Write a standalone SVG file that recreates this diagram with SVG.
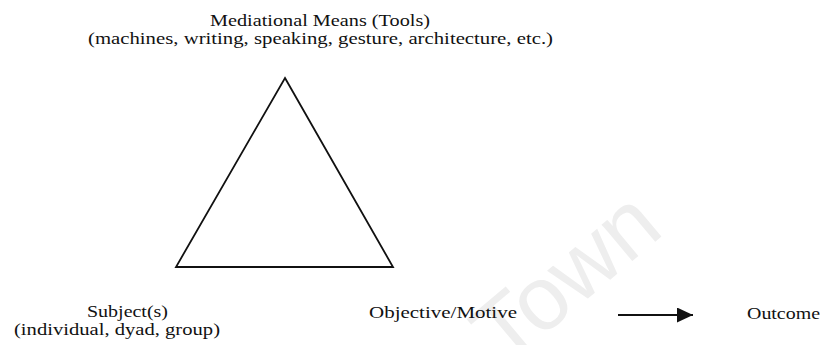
<svg xmlns="http://www.w3.org/2000/svg" width="825" height="345" viewBox="0 0 825 345">
  <style>
    .lbl { font-family: "Liberation Serif", "Times New Roman", serif; font-size: 17.5px; fill: #111; }
    .edge { fill: none; stroke: #111; stroke-width: 1.8; stroke-linejoin: miter; }
    .wm { font-family: "Liberation Sans", Arial, sans-serif; font-size: 90px; fill: #eeeeee; }
  </style>
  <defs>
    <marker id="head" viewBox="0 0 16 15" refX="16" refY="7.5" markerWidth="16" markerHeight="15" markerUnits="userSpaceOnUse" orient="auto">
      <path d="M0,0 L16,7.5 L0,15 Z" fill="#111"/>
    </marker>
  </defs>
  <rect width="825" height="345" fill="#ffffff"/>
  <text class="wm" x="505" y="368" transform="rotate(-40 505 368)">Town</text>

  <g id="tools">
    <text class="lbl" x="210" y="26" textLength="220" lengthAdjust="spacingAndGlyphs">Mediational Means (Tools)</text>
    <text class="lbl" x="88" y="44" textLength="465" lengthAdjust="spacingAndGlyphs">(machines, writing, speaking, gesture, architecture, etc.)</text>
  </g>
  <g id="subject">
    <text class="lbl" x="87" y="317" textLength="81" lengthAdjust="spacingAndGlyphs">Subject(s)</text>
    <text class="lbl" x="14" y="335" textLength="206" lengthAdjust="spacingAndGlyphs">(individual, dyad, group)</text>
  </g>
  <g id="objective">
    <text class="lbl" x="369" y="318" textLength="148" lengthAdjust="spacingAndGlyphs">Objective/Motive</text>
  </g>
  <g id="outcome">
    <text class="lbl" x="747" y="319" textLength="73" lengthAdjust="spacingAndGlyphs">Outcome</text>
  </g>
  <g id="connectors">
    <path id="triangle" class="edge" d="M285,78 L393,267 L176,267 Z"/>
    <line class="edge" x1="618" y1="315" x2="693" y2="315" marker-end="url(#head)"/>
  </g>
</svg>
